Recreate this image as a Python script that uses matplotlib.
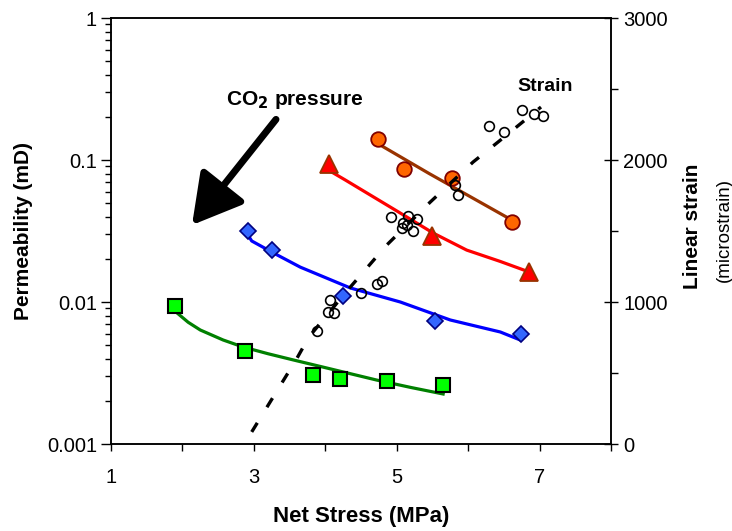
import matplotlib
matplotlib.use('Agg')
import matplotlib.pyplot as plt
from matplotlib.ticker import FixedLocator, NullFormatter, LogLocator

plt.rcParams['font.family'] = ['Liberation Sans', 'DejaVu Sans']

# permeability measurements (net stress MPa, permeability mD)
stress_orange = [4.74, 5.10, 5.77, 6.61]
perm_orange = [0.141, 0.0865, 0.0747, 0.0366]
stress_red = [4.05, 5.49, 6.85]
perm_red = [0.0937, 0.0292, 0.0163]
stress_blue = [2.92, 3.25, 4.25, 5.54, 6.74]
perm_blue = [0.0316, 0.0232, 0.0110, 0.00735, 0.00595]
stress_green = [1.90, 2.88, 3.83, 4.21, 4.86, 5.65]
perm_green = [0.00937, 0.00452, 0.00306, 0.00287, 0.00278, 0.00260]

# fitted trend lines
fit_x_orange = [4.74, 5.45, 6.61]
fit_y_orange = [0.130, 0.0805, 0.0378]
fit_x_red = [4.04, 4.28, 5.05, 5.51, 5.98, 6.45, 6.85]
fit_y_red = [0.0851, 0.0723, 0.0423, 0.0306, 0.0232, 0.0193, 0.0163]
fit_x_blue = [2.91, 2.97, 3.30, 3.65, 4.35, 5.05, 5.75, 6.45, 6.73]
fit_y_blue = [0.0300, 0.0269, 0.0218, 0.0176, 0.01256, 0.0100, 0.00747, 0.00615, 0.0054]
fit_x_green = [1.91, 2.08, 2.25, 2.57, 2.85, 3.20, 3.55, 4.02, 4.72, 5.20, 5.65]
fit_y_green = [0.0085, 0.0072, 0.00635, 0.0054, 0.00482, 0.00432, 0.00391, 0.00343, 0.00282, 0.00250, 0.00225]

# linear strain (microstrain)
strain_x = [3.88, 4.04, 4.12, 4.07, 4.50, 4.72, 4.79, 4.92, 5.16, 5.28, 5.09,
            5.07, 5.23, 5.15, 5.82, 5.86, 6.29, 6.50, 6.75, 6.92, 7.05]
strain_y = [796, 930, 923, 1014, 1063, 1127, 1148, 1599, 1606, 1585, 1556,
            1521, 1500, 1545, 1824, 1754, 2239, 2197, 2352, 2324, 2310]
strain_fit_x = [2.97, 3.59, 3.77, 4.29, 4.86, 5.47, 6.07, 6.42, 7.02]
strain_fit_y = [85, 592, 753, 1070, 1401, 1704, 1986, 2127, 2373]

fig = plt.figure(figsize=(7.32, 5.31), dpi=100)
ax = fig.add_axes([111 / 732, 87 / 531, 500 / 732, 426 / 531])

lw_fit = 2.3
ax.plot(fit_x_orange, fit_y_orange, color='#993300', lw=lw_fit, zorder=2)
ax.plot(fit_x_red, fit_y_red, color='#FF0000', lw=lw_fit, zorder=2)
ax.plot(fit_x_blue, fit_y_blue, color='#0000FF', lw=lw_fit, zorder=2)
ax.plot(fit_x_green, fit_y_green, color='#008000', lw=lw_fit, zorder=2)

ax.plot(stress_orange, perm_orange, 'o', ms=10.5, mfc='#FF6600', mec='#800000', mew=1.3, zorder=3)
ax.plot(stress_red, perm_red, '^', ms=12.5, mfc='#FF0000', mec='#993300', mew=1.3, zorder=3)
ax.plot(stress_blue, perm_blue, 'D', ms=8, mfc='#3366FF', mec='#000080', mew=1.2, zorder=3)
ax.plot(stress_green, perm_green, 's', ms=10.5, mfc='#00FF00', mec='black', mew=1.5, zorder=3)

ax.set_yscale('log')
ax.set_ylim(0.001, 1)
ax.set_xlim(1, 8)
ax.set_xticks(range(1, 9))
ax.set_xticklabels(['1', '', '3', '', '5', '', '7', ''])
ax.set_yticks([0.001, 0.01, 0.1, 1])
ax.set_yticklabels(['0.001', '0.01', '0.1', '1'])
ax.yaxis.set_minor_locator(LogLocator(base=10, subs=range(2, 10)))
ax.yaxis.set_minor_formatter(NullFormatter())
ax.tick_params(axis='x', direction='out', length=5, width=1, labelsize=14.5, pad=12)
ax.tick_params(axis='y', which='major', direction='out', length=7, width=1, labelsize=14.5, pad=3)
ax.tick_params(axis='y', which='minor', direction='out', length=4, width=1)
for s in ax.spines.values():
    s.set_linewidth(1.1)

ax.set_xlabel('Net Stress (MPa)', fontsize=16, fontweight='bold', labelpad=14)
ax.set_ylabel('Permeability (mD)', fontsize=15, fontweight='bold', labelpad=10)

# strain on the secondary axis
ax2 = ax.twinx()
ax2.plot(strain_fit_x, strain_fit_y, color='black', lw=2.4, dashes=(3.2, 5.5), zorder=4)
ax2.plot(strain_x, strain_y, 'o', ms=7, mfc='none', mec='black', mew=1.2, zorder=5)
ax2.set_ylim(0, 3000)
ax2.set_yticks([0, 1000, 2000, 3000])
ax2.yaxis.set_minor_locator(FixedLocator([500, 1500, 2500]))
ax2.tick_params(axis='y', which='major', direction='inout', length=10, width=1, labelsize=14.5, pad=4)
ax2.tick_params(axis='y', which='minor', direction='out', length=5, width=1)
for s in ax2.spines.values():
    s.set_linewidth(1.1)

fig.text(692 / 732, 1 - 226 / 531, 'Linear strain', rotation=90, fontsize=15,
         fontweight='bold', ha='center', va='center')
fig.text(724 / 732, 1 - 230 / 531, '(microstrain)', rotation=90, fontsize=13.5,
         ha='center', va='center')

# annotations
ax.annotate('', xy=(0.162, 0.514), xytext=(0.330, 0.762), xycoords='axes fraction',
            arrowprops=dict(arrowstyle='-|>,head_length=1.5,head_width=0.85', lw=5,
                            color='black', mutation_scale=20, shrinkA=0, shrinkB=0))
ax.text(0.368, 0.808, r'CO$_\mathbf{2}$ pressure', transform=ax.transAxes,
        fontsize=15, fontweight='bold', ha='center', va='center')
ax.text(0.868, 0.840, 'Strain', transform=ax.transAxes, fontsize=14,
        fontweight='bold', ha='center', va='center')

fig.savefig('out.png', dpi=100)
